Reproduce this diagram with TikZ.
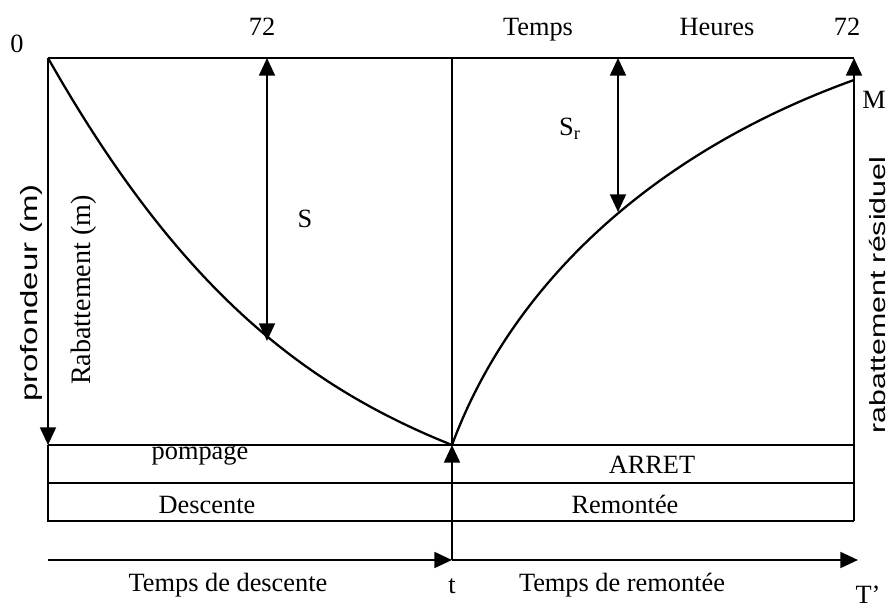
\documentclass[tikz,border=0pt]{standalone}
\usepackage{fontspec}
\setmainfont{Liberation Serif}
\setsansfont{Liberation Sans}
\usetikzlibrary{arrows.meta}

\begin{document}
\begin{tikzpicture}[
  x=0.02cm, y=-0.02cm,
  axis/.style={line width=1.3pt},
  band/.style={line width=0.9pt},
  curve/.style={line width=1.3pt},
  arrow/.style={-{Triangle[width=9pt,length=10pt]}, line width=1.3pt},
  dblarrow/.style={{Triangle[width=9pt,length=10pt]}-{Triangle[width=9pt,length=10pt]}, line width=1.2pt},
  lbl/.style={font=\fontsize{15}{17}\selectfont, anchor=base, inner sep=0pt},
  vlbl/.style={rotate=90, inner sep=0pt}
]
\useasboundingbox (0,0) rectangle (894,611);

% key points
\coordinate (O) at (48,58);
\coordinate (topMid) at (452,58);
\coordinate (topRight) at (854,58);
\coordinate (stop) at (452,445);
\coordinate (bandL) at (48,445);
\coordinate (bandR) at (854,445);
\coordinate (arretL) at (48,483);
\coordinate (arretR) at (854,483);
\coordinate (boxL) at (48,521);
\coordinate (boxR) at (854,521);
\coordinate (tAxisL) at (48,560);
\coordinate (tAxisM) at (452,560);
\coordinate (tAxisR) at (858,560);
\coordinate (sTop) at (267,58);
\coordinate (sBot) at (267,341);
\coordinate (srTop) at (618,58);
\coordinate (srBot) at (618,212);
\coordinate (endM) at (854,80);

% frame and axes
\draw[axis] (O) -- (topRight);
\draw[arrow] (O) -- (bandL);
\draw[axis] (topMid) -- (stop);
\draw[arrow] (tAxisM) -- (stop);
\draw[arrow] (boxR) -- (topRight);
\draw[band] (bandL) -- (bandR);
\draw[band] (arretL) -- (arretR);
\draw[band] (bandL) -- (boxL) -- (boxR);
\draw[arrow] (tAxisL) -- (tAxisM);
\draw[arrow] (tAxisM) -- (tAxisR);

% curves
\draw[curve] (O) .. controls (178,287) and (302,385) .. (stop);
\draw[curve] (stop) .. controls (512,283) and (654,152) .. (endM);

% drawdowns
\draw[dblarrow] (sTop) -- (sBot);
\draw[dblarrow] (srTop) -- (srBot);

% labels
\node[lbl] (zero) at (17,53) {0};
\node[lbl] (h72a) at (262,36) {72};
\node[lbl] (temps) at (538,36) {Temps};
\node[lbl] (heures) at (717,36) {Heures};
\node[lbl] (h72b) at (847,36) {72};
\node[lbl] (s) at (305,228) {S};
\node[lbl] (sr) at (570,136) {S\textsubscript{r}};
\node[lbl] (m) at (874,109) {M};
\node[lbl] (pompage) at (200,460) {pompage};
\node[lbl] (arret) at (652,474) {ARRET};
\node[lbl] (descente) at (207,514) {Descente};
\node[lbl] (remontee) at (625,514) {Remontée};
\node[lbl] (tdesc) at (228,592) {Temps de descente};
\node[lbl] (tstop) at (452,594) {t};
\node[lbl] (tremont) at (622,592) {Temps de remontée};
\node[lbl] (tprime) at (868,604) {T'};
\node[vlbl] (prof) at (31,293) {\scalebox{1.4}[1]{\fontsize{13.4}{15}\sffamily profondeur (m)}};
\node[vlbl] (rabat) at (84,290) {\fontsize{16}{18}\selectfont Rabattement (m)};
\node[vlbl] (resid) at (878,295) {\scalebox{1.38}[1]{\fontsize{12.5}{14}\sffamily rabattement résiduel}};
\end{tikzpicture}
\end{document}
